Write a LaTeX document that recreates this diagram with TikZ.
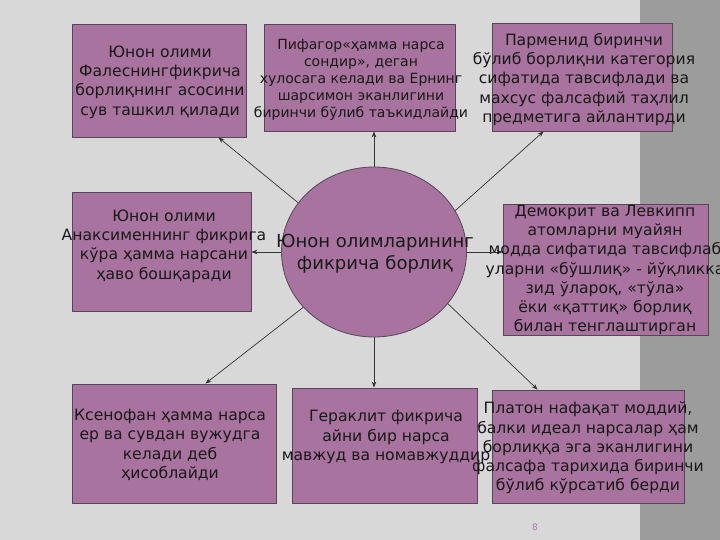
\documentclass[tikz,border=0pt]{standalone}
\usepackage{fontspec}
\setmainfont{DejaVu Sans}
\usetikzlibrary{shapes.geometric,arrows.meta}
\definecolor{slidebg}{HTML}{D8D8D8}
\definecolor{sidebar}{HTML}{9C9C9C}
\definecolor{boxfill}{HTML}{A8739E}
\definecolor{boxline}{HTML}{55475A}
\definecolor{pagenum}{HTML}{B07AA8}
\begin{document}
\begin{tikzpicture}[x=1bp,y=-1bp,
  box/.style={draw=boxline,fill=boxfill,line width=0.8bp,inner sep=0pt},
  txt/.style={align=center,inner sep=0pt,text=black!90,font=\fontsize{15.6bp}{19.3bp}\selectfont},
  link/.style={draw=black!80,line width=0.7bp,-{Stealth[length=6bp,width=4.5bp]}}]
\fill[slidebg] (0,0) rectangle (640,540);
\fill[sidebar] (640,0) rectangle (720,540);
\useasboundingbox (0,0) rectangle (720,540);

\node[box,minimum width=174bp,minimum height=113bp] (thales) at (159,80.5) {};
\node[box,minimum width=191bp,minimum height=107bp] (pyth) at (359.5,77.5) {};
\node[box,minimum width=180bp,minimum height=108bp] (parm) at (582,77) {};
\node[box,minimum width=179bp,minimum height=119bp] (anax) at (161.5,251.5) {};
\node[box,minimum width=205bp,minimum height=131bp] (demo) at (605.5,269.5) {};
\node[box,minimum width=204bp,minimum height=119bp] (xeno) at (174,443.5) {};
\node[box,minimum width=185bp,minimum height=115bp] (hera) at (384.5,445.5) {};
\node[box,minimum width=192bp,minimum height=113bp] (plato) at (588,446.5) {};
\node[box,ellipse,minimum width=185bp,minimum height=170bp] (core) at (374,252) {};

\draw[link] (core.147) -- ([xshift=-28bp]thales.south east);
\draw[link] (core.north) -- (core.north |- pyth.south);
\draw[link] (core.27) -- ([xshift=52bp]parm.south west);
\draw[link] (core.west) -- (anax.east |- core.west);
\draw[link] (core.east) -- (demo.west |- core.east);
\draw[link] (core.218) -- ([xshift=-71bp]xeno.north east);
\draw[link] (core.south) -- (core.south |- hera.north);
\draw[link] (core.-35) -- ([xshift=46bp]plato.north west);

\node[txt] (thalestxt) at (160,82) {Юнон олими\\Фалеснингфикрича\\борлиқнинг асосини\\сув ташкил қилади};
\node[txt,font=\fontsize{14bp}{17bp}\selectfont] (pythtxt) at (361,79.5) {Пифагор«ҳамма нарса\\сондир», деган\\хулосага келади ва Ернинг\\шарсимон эканлигини\\биринчи бўлиб таъкидлайди};
\node[txt] (parmtxt) at (584,79.5) {Парменид биринчи\\бўлиб борлиқни категория\\сифатида тавсифлади ва\\махсус фалсафий таҳлил\\предметига айлантирди};
\node[txt] (anaxtxt) at (164,246) {Юнон олими\\Анаксименнинг фикрига\\кўра ҳамма нарсани\\ҳаво бошқаради};
\node[txt] (demotxt) at (605,270) {Демокрит ва Левкипп\\атомларни муайян\\модда сифатида тавсифлаб\\уларни «бўшлиқ» - йўқликка\\зид ўлароқ, «тўла»\\ёки «қаттиқ» борлиқ\\билан тенглаштирган};
\node[txt] (xenotxt) at (170,445) {Ксенофан ҳамма нарса\\ер ва сувдан вужудга\\келади деб\\ҳисоблайди};
\node[txt] (heratxt) at (386,437) {Гераклит фикрича\\айни бир нарса\\мавжуд ва номавжуддир};
\node[txt] (platotxt) at (588,448) {Платон нафақат моддий,\\балки идеал нарсалар ҳам\\борлиққа эга эканлигини\\фалсафа тарихида биринчи\\бўлиб кўрсатиб берди};
\node[txt,font=\fontsize{18bp}{22bp}\selectfont] (coretxt) at (375,254) {Юнон олимларининг\\фикрича борлиқ};

\node[text=pagenum,font=\fontsize{9bp}{10bp}\selectfont] (pagenr) at (535,527) {8};
\end{tikzpicture}
\end{document}
